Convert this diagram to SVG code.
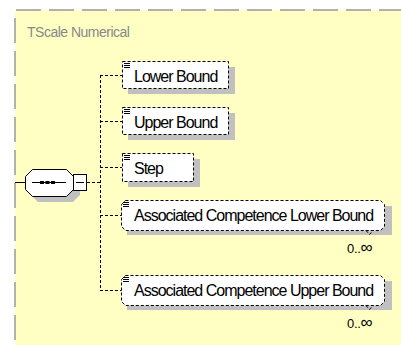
<svg xmlns="http://www.w3.org/2000/svg" width="401" height="345" viewBox="0 0 401 345">
<style>
.lbl{font-family:"Liberation Sans",Arial,sans-serif;font-size:16px;letter-spacing:-1px;fill:#000}
.occ{font-family:"Liberation Sans",Arial,sans-serif;font-size:13px;letter-spacing:-0.3px;fill:#000}
.inf{font-size:17px}
.box{fill:#fff;stroke:#000;stroke-width:1;stroke-dasharray:3 2}
.shd{fill:#c0c0c0}
.con{fill:none;stroke:#000;stroke-width:1;stroke-dasharray:3 2}
.ico{stroke:#000;stroke-width:1}
</style>
<rect x="0" y="0" width="401" height="345" fill="#fff"/>
<rect x="15" y="10" width="386" height="335" fill="#ffffc4"/>
<line x1="16" y1="10" x2="401" y2="10" stroke="#999" stroke-width="1.5" stroke-dasharray="25 8"/>
<line x1="15" y1="18" x2="15" y2="345" stroke="#999" stroke-width="1.5" stroke-dasharray="25 8"/>
<text x="27" y="37" font-family="Liberation Sans,Arial,sans-serif" font-size="14" letter-spacing="-0.5" fill="#888">TScale Numerical</text>
<g id="connectors">
<line x1="15" y1="182.5" x2="25" y2="182.5" stroke="#000"/>
<line class="con" x1="87" y1="182.5" x2="100" y2="182.5"/>
<line class="con" x1="100.5" y1="75" x2="100.5" y2="290"/>
<line class="con" x1="100" y1="75.5" x2="122" y2="75.5"/>
<line class="con" x1="100" y1="121.5" x2="122" y2="121.5"/>
<line class="con" x1="100" y1="167.5" x2="122" y2="167.5"/>
<line class="con" x1="100" y1="215.5" x2="122" y2="215.5"/>
<line class="con" x1="100" y1="290.5" x2="122" y2="290.5"/>
</g>
<g id="sequence">
<polygon class="shd" points="38,175 73,175 80,182 80,195 73,202 38,202 31,195 31,182"/>
<polygon points="32.5,169.5 66.5,169.5 73.5,176.5 73.5,189.5 66.5,196.5 32.5,196.5 25.5,189.5 25.5,176.5" fill="#fff" stroke="#000"/>
<line x1="32" y1="182.5" x2="66" y2="182.5" stroke="#000"/>
<rect x="40" y="181" width="4" height="3" fill="#000"/>
<rect x="45.5" y="181" width="4" height="3" fill="#000"/>
<rect x="51" y="181" width="4" height="3" fill="#000"/>
<rect x="73.5" y="174.5" width="13" height="16" fill="#fff" stroke="#000"/>
<line x1="76" y1="182.5" x2="84" y2="182.5" stroke="#000"/>
</g>
<g id="LowerBound">
<rect class="shd" x="128" y="67" width="107" height="27"/>
<rect class="box" x="122.5" y="61.5" width="106" height="27"/>
<path class="ico" d="M124 63.5h6M124 65.5h6M124 67.5h6"/>
<text class="lbl" x="134" y="82">Lower Bound</text>
</g>
<g id="UpperBound">
<rect class="shd" x="128" y="113" width="107" height="27"/>
<rect class="box" x="122.5" y="107.5" width="106" height="27"/>
<path class="ico" d="M124 109.5h6M124 111.5h6M124 113.5h6"/>
<text class="lbl" x="134" y="128">Upper Bound</text>
</g>
<g id="Step">
<rect class="shd" x="128" y="159" width="72" height="28"/>
<rect class="box" x="122.5" y="153.5" width="71" height="28"/>
<path class="ico" d="M124 155.5h6M124 157.5h6M124 159.5h6"/>
<text class="lbl" x="134" y="174">Step</text>
</g>
<g id="AssociatedCompetenceLowerBound">
<rect class="shd" x="127" y="206" width="265" height="29"/>
<path class="box" d="M125.5 200.5H380.5L384.5 204.5V226.5L380.5 230.5H125.5L121.5 226.5V204.5Z"/>
<path class="con" d="M366 230.5L369.5 234.5L373 230.5"/>
<path class="ico" d="M123 202.5h6M123 204.5h6M123 206.5h6"/>
<text class="lbl" x="134" y="221">Associated Competence Lower Bound</text>
<text class="occ" x="347" y="253">0..<tspan class="inf">∞</tspan></text>
</g>
<g id="AssociatedCompetenceUpperBound">
<rect class="shd" x="127" y="281" width="265" height="29"/>
<path class="box" d="M125.5 275.5H380.5L384.5 279.5V301.5L380.5 305.5H125.5L121.5 301.5V279.5Z"/>
<path class="con" d="M366 305.5L369.5 309.5L373 305.5"/>
<path class="ico" d="M123 277.5h6M123 279.5h6M123 281.5h6"/>
<text class="lbl" x="134" y="296">Associated Competence Upper Bound</text>
<text class="occ" x="347" y="328">0..<tspan class="inf">∞</tspan></text>
</g>
</svg>
